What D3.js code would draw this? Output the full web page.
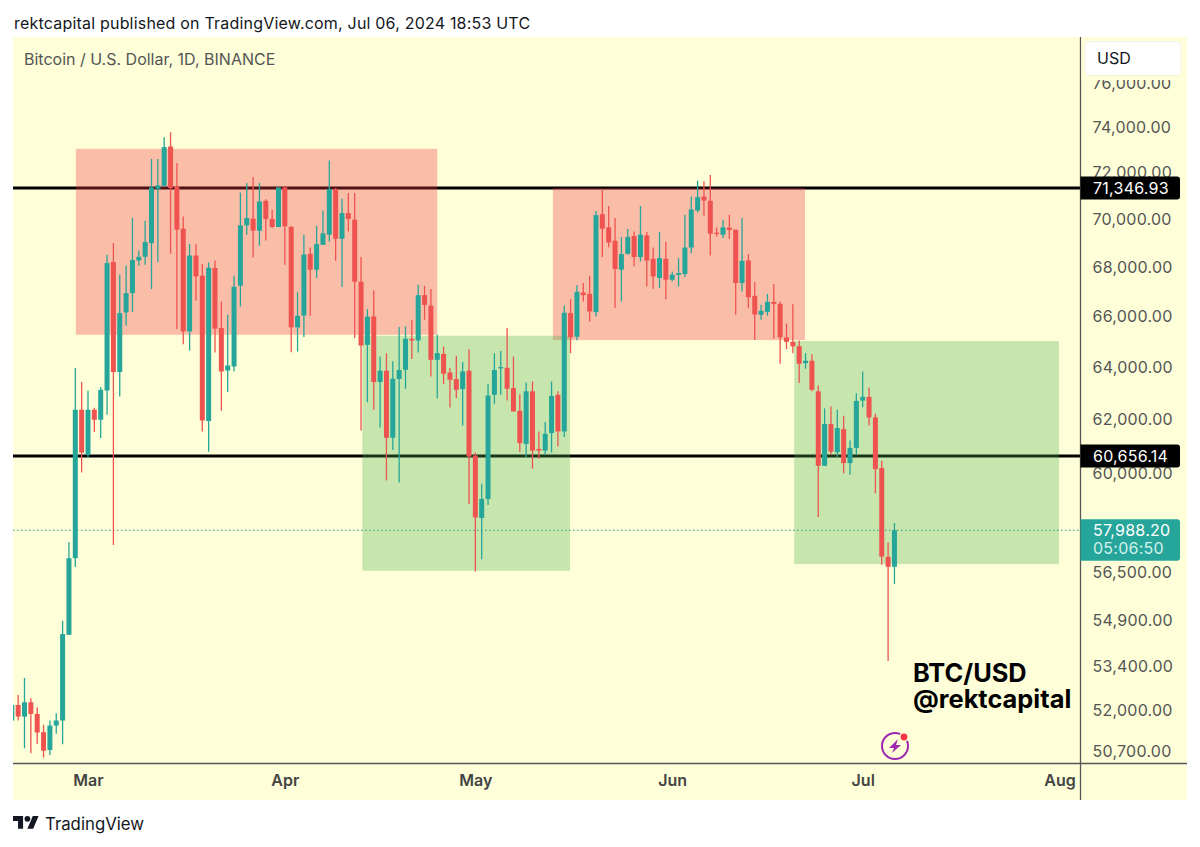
<!DOCTYPE html>
<html>
<head>
<meta charset="utf-8">
<title>BTC/USD</title>
<script src="https://cdn.jsdelivr.net/npm/d3@7"></script>
<style>
  body { margin: 0; background: #fff; }
  svg { display: block; }
  text { font-family: Inter, "Liberation Sans", sans-serif; }
</style>
</head>
<body>
<svg id="chart" width="1200" height="847"></svg>
<script>
// daily candles, first one is 2024-02-18
const firstDay = "2024-02-18";
const opens = [51675,52165,51800,52250,51884,51313,50761,51519,51675,54430,57016,62379,60697,62379,62004,63111,68218,63821,66166,66946,68283,68435,69005,71316,71446,73163,71416,69610,65410,68488,67655,61955,67972,65545,63883,64037,67245,69750,70032,69526,70794,70020,69682,71372,69695,65572,66046,68558,67901,68934,69357,71302,69187,70273,69991,67409,64881,66006,63435,63871,61329,63551,63910,65120,65052,66864,66444,64296,64528,63806,63551,63165,63871,60672,58418,59098,62945,63960,63987,63204,62342,61104,63080,60916,60854,61505,62945,61565,66142,65200,66970,66917,66181,70226,69665,69103,67901,68558,69301,68423,69327,68353,67561,68353,67491,67684,67725,68819,70384,70980,70794,69441,69357,69653,69568,67356,68283,66835,66074,66193,66591,66512,65172,65000,64829,64165,64258,63080,60298,61843,60795,61653,60396,60954,62726,62868,62090,60215,57061,56719];
const highs = [52165,52483,53021,52377,52093,51541,51675,51906,54894,57571,63976,63435,63111,62454,63242,68517,69005,67696,68078,70063,68693,69949,72611,72611,73569,73793,72436,70131,68963,68963,68148,68201,68283,66603,66074,67655,71154,71564,71826,71564,70866,70413,71372,71416,69700,66987,69357,68819,69737,70384,72549,71346,70880,71128,71128,68423,66301,67052,64423,64555,64236,65585,65610,65875,67286,67245,67110,65279,64813,63976,64450,64207,64710,60781,59645,63358,64555,64643,65545,64423,62972,63420,63458,61565,61918,63458,63080,66444,66700,67266,67356,67655,70356,71272,70574,70062,69259,69598,69496,70574,69471,68819,69471,69048,67832,68382,70196,70980,71665,71634,71913,69665,69991,70196,69568,70062,68546,67397,66472,66917,67315,66603,65723,66500,65052,64555,64516,63304,62432,62500,62379,62154,61228,63010,63844,63227,62229,60480,57557,58240];
const lows = [51675,51675,50814,50659,50948,50535,50606,51260,50939,54430,56708,60053,60614,61543,61318,62192,57476,62879,65636,66181,68066,68107,67110,68218,71416,68558,65505,64909,64655,66642,61565,60817,64578,62342,63049,63844,66404,69357,68406,68891,69115,69640,69682,68107,64590,64616,65187,66034,67561,68934,69073,68271,67192,69496,65147,61603,62663,62379,61715,59765,60879,59690,63177,64323,64578,65875,63651,62818,63358,62463,62818,61790,58921,56558,56982,58886,62602,62945,62726,62316,60817,60614,60189,60552,60697,60781,61003,61355,64555,65060,66603,65807,66006,68423,68836,66341,66603,68517,68037,68242,67216,67122,67151,66700,67421,67216,67602,68587,70299,70154,68488,69285,69217,69174,66074,67011,66341,65080,65875,66034,65120,64142,64710,64555,63397,63949,63080,58453,60298,60697,60614,60027,59971,60697,62478,61790,59305,56787,53576,56127];
const closes = [52165,51800,52250,51884,51301,50739,51519,51675,54452,57016,62379,60781,62379,62004,63138,68177,63821,66142,66946,68300,68435,69048,71372,71459,73137,71346,69568,65410,68488,67626,61978,67984,65518,63844,64076,67204,69750,70062,69526,70764,70020,69682,71372,69708,65572,66034,68529,67901,68963,69411,71302,69187,70273,70020,67409,64853,65994,63435,63871,61329,63563,63899,65120,65052,66864,66472,64296,64555,63756,63524,63138,63844,60636,58439,59098,62918,63899,64014,63177,62316,61130,63080,60854,60854,61479,62906,61565,66154,65180,66999,66864,66205,70183,69610,69031,67930,68546,69259,68423,69357,68283,67626,68382,67491,67696,67766,68819,70426,70954,70806,69399,69399,69665,69555,67356,68271,66777,66086,66233,66591,66512,65172,65000,64821,64142,64258,63138,60298,61843,60817,61691,60396,60954,62714,62868,62090,60178,57071,56719,57988.2];

const priceTicks = [76000,74000,72000,70000,68000,66000,64000,62000,60000,56500,54900,53400,52000,50700];
const monthTicks = ["2024-03-01","2024-04-01","2024-05-01","2024-06-01","2024-07-01","2024-08-01"];
const levels = [71346.93,60656.14];
const lastPrice = 57988.2;
const countdown = "05:06:50";

// drawn zones
const zoneStart = ["2024-02-28T02:00Z","2024-05-13T05:00Z","2024-04-13T05:00Z","2024-06-20T05:00Z"];
const zoneEnd = ["2024-04-25T00:00Z","2024-06-21T22:00Z","2024-05-15T22:00Z","2024-07-31T22:00Z"];
const zoneTop = [73060,71346,65239,65028];
const zoneBottom = [65279,65068,56582,56811];
const zoneKind = ["sell","sell","buy","buy"];

const green = "#26a69a", red = "#ef5350", paper = "#feffd8", axisInk = "#555";
const pane = { left: 13, right: 1187, top: 37, bottom: 800, axisX: 1080.5, axisY: 763.5 };

const svg = d3.select("#chart");

const x = d3.scaleUtc()
  .domain([new Date(firstDay), new Date("2024-08-01")])
  .range([11.8, 1059.55]);

const y = d3.scaleLog()
  .domain([50700, 76000])
  .range([752, 83.7]);

const candles = opens.map((o, i) => ({
  date: d3.utcDay.offset(new Date(firstDay), i),
  open: o, high: highs[i], low: lows[i], close: closes[i]
}));

svg.append("rect")
  .attr("x", pane.left).attr("y", pane.top)
  .attr("width", pane.right - pane.left).attr("height", pane.bottom - pane.top)
  .attr("fill", paper);

svg.append("clipPath").attr("id", "plot")
  .append("rect")
  .attr("x", pane.left).attr("y", pane.top)
  .attr("width", pane.axisX - pane.left).attr("height", pane.axisY - pane.top);

const plot = svg.append("g").attr("clip-path", "url(#plot)");

plot.selectAll(".level").data(levels).join("line")
  .attr("class", "level")
  .attr("x1", pane.left).attr("x2", pane.axisX)
  .attr("y1", d => y(d)).attr("y2", d => y(d))
  .attr("stroke", "#000").attr("stroke-width", 3);

plot.selectAll(".zone").data(zoneStart).join("rect")
  .attr("class", "zone")
  .attr("x", d => x(new Date(d)))
  .attr("width", (d, i) => x(new Date(zoneEnd[i])) - x(new Date(d)))
  .attr("y", (d, i) => y(zoneTop[i]))
  .attr("height", (d, i) => y(zoneBottom[i]) - y(zoneTop[i]))
  .attr("fill", (d, i) => zoneKind[i] === "sell" ? "#f23645" : "#4caf50")
  .attr("fill-opacity", (d, i) => zoneKind[i] === "sell" ? 0.32 : 0.31);

plot.append("line")
  .attr("x1", pane.left).attr("x2", pane.axisX)
  .attr("y1", y(lastPrice)).attr("y2", y(lastPrice))
  .attr("stroke", "#1f9c80").attr("stroke-width", 1.1).attr("stroke-dasharray", "1.5 2.5");

const candle = plot.selectAll(".candle").data(candles).join("g")
  .attr("class", "candle")
  .attr("fill", d => d.close >= d.open ? green : red)
  .attr("stroke", d => d.close >= d.open ? green : red);

candle.append("line")
  .attr("x1", d => x(d.date)).attr("x2", d => x(d.date))
  .attr("y1", d => y(d.high)).attr("y2", d => y(d.low))
  .attr("stroke-width", 1.3);

candle.append("rect")
  .attr("x", d => x(d.date) - 2.5)
  .attr("width", 5)
  .attr("y", d => y(Math.max(d.open, d.close)))
  .attr("height", d => Math.max(1.2, Math.abs(y(d.open) - y(d.close))))
  .attr("stroke", "none");

// price axis
const priceAxis = svg.append("g")
  .attr("transform", `translate(${pane.axisX},0)`)
  .call(d3.axisRight(y).tickValues(priceTicks).tickFormat(d3.format(",.2f")).tickSize(0).tickPadding(12));
priceAxis.select(".domain").remove();
priceAxis.selectAll("text")
  .attr("font-size", 16).attr("fill", axisInk).attr("letter-spacing", 0.25).attr("dy", "0.3em")
  .style("font-family", "Inter, sans-serif");

// month axis
const timeAxis = svg.append("g")
  .attr("transform", `translate(0,${pane.axisY})`)
  .call(d3.axisBottom(x).tickValues(monthTicks.map(d => new Date(d))).tickFormat(d3.utcFormat("%b")).tickSize(0).tickPadding(11));
timeAxis.select(".domain").remove();
timeAxis.selectAll("text")
  .attr("font-size", 16).attr("font-weight", 600).attr("fill", "#444")
  .style("font-family", "Inter, sans-serif");

svg.append("line")
  .attr("x1", pane.axisX).attr("x2", pane.axisX)
  .attr("y1", pane.top).attr("y2", pane.bottom)
  .attr("stroke", axisInk).attr("stroke-width", 1.3);
svg.append("line")
  .attr("x1", pane.left).attr("x2", pane.right)
  .attr("y1", pane.axisY).attr("y2", pane.axisY)
  .attr("stroke", axisInk).attr("stroke-width", 1.3);

// price tags on the axis
const tagPath = (top, h) => `M${pane.axisX},${top}h96.5a3,3 0 0 1 3,3v${h - 6}a3,3 0 0 1 -3,3h-96.5z`;
levels.forEach(level => {
  const c = y(level);
  svg.append("path").attr("d", tagPath(c - 11.5, 23)).attr("fill", "#000");
  svg.append("text").attr("x", 1093).attr("y", c + 6)
    .attr("font-size", 16).attr("letter-spacing", 0.25).attr("fill", "#fff")
    .text(d3.format(",.2f")(level));
});
const lastY = y(lastPrice);
svg.append("path").attr("d", tagPath(lastY - 11, 41.5)).attr("fill", green);
svg.append("text").attr("x", 1093).attr("y", lastY + 5.5)
  .attr("font-size", 16).attr("letter-spacing", 0.25).attr("fill", "#fff")
  .text(d3.format(",.2f")(lastPrice));
svg.append("text").attr("x", 1093).attr("y", lastY + 23.5)
  .attr("font-size", 16).attr("letter-spacing", 0.25).attr("fill", "#d4f1ec")
  .text(countdown);

// currency button sits above the top tick
svg.append("rect").attr("x", 1081.5).attr("y", pane.top).attr("width", 105.5).attr("height", 43).attr("fill", paper);
svg.append("rect")
  .attr("x", 1085).attr("y", 41.5).attr("width", 96).attr("height", 34).attr("rx", 4)
  .attr("fill", "#fff").attr("stroke", "#f3f3e4");
svg.append("text").attr("x", 1097).attr("y", 64).attr("font-size", 16).attr("fill", "#131722").text("USD");

// captions
svg.append("text").attr("x", 14).attr("y", 29).attr("font-size", 16).attr("letter-spacing", 0.2).attr("fill", "#131722")
  .text("rektcapital published on TradingView.com, Jul 06, 2024 18:53 UTC");
svg.append("text").attr("x", 24).attr("y", 65).attr("font-size", 16).attr("fill", axisInk)
  .text("Bitcoin / U.S. Dollar, 1D, BINANCE");

const signature = svg.append("text").attr("font-size", 25.4).attr("font-weight", 700).attr("fill", "#000");
signature.append("tspan").attr("x", 913).attr("y", 682).text("BTC/USD");
signature.append("tspan").attr("x", 913).attr("y", 708).text("@rektcapital");

// lightning badge
const badge = svg.append("g").attr("transform", "translate(895,746)");
badge.append("circle").attr("r", 13).attr("fill", "none").attr("stroke", "#9c27b0").attr("stroke-width", 2);
badge.append("path").attr("d", "M3,-7L-6,2L-1,2L-3,7L6,-1L1,-1Z").attr("fill", "#9c27b0");
badge.append("circle").attr("cx", 9).attr("cy", -9).attr("r", 5).attr("fill", paper);
badge.append("circle").attr("cx", 9).attr("cy", -9).attr("r", 3.4).attr("fill", "#f23645");

// footer logo
const logo = svg.append("g").attr("transform", "translate(13,813) scale(0.72)").attr("fill", "#131722");
logo.append("path").attr("d", "M14 22H7V11H0V4h14v18zM28 22h-8l7.5-18h8L28 22z");
logo.append("circle").attr("cx", 20).attr("cy", 8).attr("r", 4);
svg.append("text").attr("x", 45).attr("y", 830).attr("font-size", 16.8).attr("fill", "#131722").text("TradingView");
</script>
</body>
</html>
